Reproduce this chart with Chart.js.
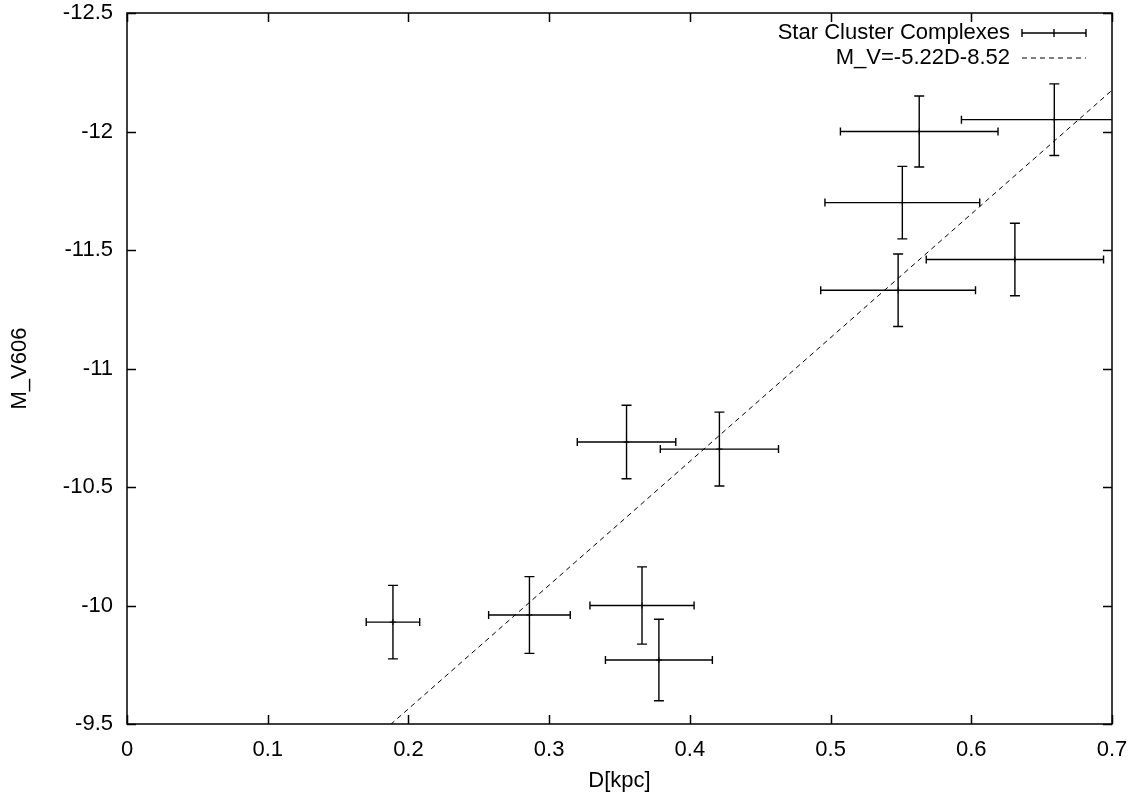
<!DOCTYPE html>
<html>
<head>
<meta charset="utf-8">
<script src="https://cdn.jsdelivr.net/npm/chart.js@4"></script>
<style>
  html, body { margin: 0; padding: 0; background: #fff; }
  #wrap { width: 1135px; height: 795px; }
</style>
</head>
<body>
<div id="wrap"><canvas id="plot" width="1135" height="795"></canvas></div>
<script>
// star cluster complexes: distance (kpc) vs absolute magnitude
const dist    = [0.189, 0.286, 0.366, 0.378, 0.355, 0.421, 0.548, 0.631, 0.551, 0.563, 0.659];
const mag     = [-9.93, -9.96, -10.00, -9.77, -10.69, -10.66, -11.33, -11.46, -11.70, -12.00, -12.05];
const distErr = [0.019, 0.029, 0.037, 0.038, 0.035, 0.042, 0.055, 0.063, 0.055, 0.056, 0.066];
const magErr  = [0.155, 0.162, 0.163, 0.172, 0.155, 0.156, 0.153, 0.153, 0.153, 0.150, 0.151];

// fit line M_V = -5.22 D - 8.52, end points
const fitX = [0, 0.7];
const fitY = [-8.52, -12.174];

const FONT = 'Liberation Sans, Arial, Helvetica, sans-serif';
const FS = 22;

const points = dist.map((d, i) => ({ x: d, y: mag[i], xe: distErr[i], ye: magErr[i] }));
const fitLine = fitX.map((x, i) => ({ x: x, y: fitY[i] }));

const gnuplotBits = {
  id: 'gnuplotBits',
  afterDatasetsDraw(chart) {
    const { ctx, chartArea: a, scales } = chart;
    const xs = scales.x, ys = scales.y;

    // error bars
    ctx.save();
    ctx.beginPath();
    ctx.rect(a.left, a.top, a.right - a.left, a.bottom - a.top);
    ctx.clip();
    ctx.strokeStyle = '#000';
    ctx.lineWidth = 1.4;
    chart.data.datasets[0].data.forEach(p => {
      const cx = xs.getPixelForValue(p.x), cy = ys.getPixelForValue(p.y);
      const x0 = xs.getPixelForValue(p.x - p.xe), x1 = xs.getPixelForValue(p.x + p.xe);
      const y0 = ys.getPixelForValue(p.y - p.ye), y1 = ys.getPixelForValue(p.y + p.ye);
      ctx.beginPath();
      ctx.moveTo(x0, cy); ctx.lineTo(x1, cy);
      ctx.moveTo(x0, cy - 4); ctx.lineTo(x0, cy + 4);
      ctx.moveTo(x1, cy - 4); ctx.lineTo(x1, cy + 4);
      ctx.moveTo(cx, y0); ctx.lineTo(cx, y1);
      ctx.moveTo(cx - 5, y0); ctx.lineTo(cx + 5, y0);
      ctx.moveTo(cx - 5, y1); ctx.lineTo(cx + 5, y1);
      ctx.stroke();
    });
    ctx.restore();

    // frame and inward ticks (mirrored)
    ctx.save();
    ctx.strokeStyle = '#000';
    ctx.lineWidth = 1.5;
    ctx.strokeRect(a.left, a.top, a.right - a.left, a.bottom - a.top);
    ctx.beginPath();
    xs.ticks.forEach(t => {
      const px = Math.round(xs.getPixelForValue(t.value)) + 0.5;
      ctx.moveTo(px, a.bottom); ctx.lineTo(px, a.bottom - 9);
      ctx.moveTo(px, a.top); ctx.lineTo(px, a.top + 9);
    });
    ys.ticks.forEach(t => {
      const py = Math.round(ys.getPixelForValue(t.value)) + 0.5;
      ctx.moveTo(a.left, py); ctx.lineTo(a.left + 9, py);
      ctx.moveTo(a.right, py); ctx.lineTo(a.right - 9, py);
    });
    ctx.stroke();

    // legend, gnuplot style: text right-aligned, sample to the right
    ctx.font = FS + 'px ' + FONT;
    ctx.fillStyle = '#000';
    ctx.textAlign = 'right';
    ctx.textBaseline = 'middle';
    const tx = 1010, sx0 = 1022, sx1 = 1086;
    const rows = [a.top + 20, a.top + 45];
    ctx.fillText(chart.data.datasets[0].label, tx, rows[0]);
    ctx.fillText(chart.data.datasets[1].label, tx, rows[1]);
    ctx.lineWidth = 1.4;
    ctx.beginPath();
    ctx.moveTo(sx0, rows[0]); ctx.lineTo(sx1, rows[0]);
    ctx.moveTo(sx0, rows[0] - 4); ctx.lineTo(sx0, rows[0] + 4);
    ctx.moveTo(sx1, rows[0] - 4); ctx.lineTo(sx1, rows[0] + 4);
    const mid = (sx0 + sx1) / 2;
    ctx.moveTo(mid, rows[0] - 4); ctx.lineTo(mid, rows[0] + 4);
    ctx.stroke();
    ctx.lineWidth = 1;
    ctx.setLineDash([5, 4]);
    ctx.beginPath();
    ctx.moveTo(sx0, rows[1]); ctx.lineTo(sx1, rows[1]);
    ctx.stroke();
    ctx.restore();
  }
};

new Chart(document.getElementById('plot'), {
  type: 'scatter',
  data: {
    datasets: [
      {
        label: 'Star Cluster Complexes',
        data: points,
        pointStyle: 'cross',
        pointRadius: 3,
        borderColor: '#000',
        borderWidth: 1,
        showLine: false
      },
      {
        label: 'M_V=-5.22D-8.52',
        data: fitLine,
        showLine: true,
        pointRadius: 0,
        borderColor: '#000',
        borderWidth: 1,
        borderDash: [5, 4]
      }
    ]
  },
  options: {
    responsive: false,
    animation: false,
    layout: { padding: { top: 13, right: 23, left: 0, bottom: 0 } },
    plugins: {
      legend: { display: false },
      tooltip: { enabled: false }
    },
    scales: {
      x: {
        type: 'linear',
        min: 0,
        max: 0.7,
        afterFit: s => { s.height = 71; s.paddingLeft = 0; s.paddingRight = 0; },
        grid: { display: false },
        border: { display: false },
        ticks: {
          stepSize: 0.1,
          color: '#000',
          padding: 5,
          font: { family: FONT, size: FS },
          maxRotation: 0,
          callback: v => String(+v.toFixed(2))
        },
        title: {
          display: true,
          text: 'D[kpc]',
          color: '#000',
          font: { family: FONT, size: FS },
          padding: { top: 0, bottom: 1 }
        }
      },
      y: {
        type: 'linear',
        min: -12.5,
        max: -9.5,
        reverse: true,
        afterFit: s => { s.width = 127; s.paddingTop = 0; s.paddingBottom = 0; },
        grid: { display: false },
        border: { display: false },
        ticks: {
          stepSize: 0.5,
          color: '#000',
          padding: 6,
          font: { family: FONT, size: FS },
          callback: v => String(+v.toFixed(2))
        },
        title: {
          display: true,
          text: 'M_V606',
          color: '#000',
          font: { family: FONT, size: FS },
          padding: { top: 7, bottom: 0 }
        }
      }
    }
  },
  plugins: [gnuplotBits]
});
</script>
</body>
</html>
